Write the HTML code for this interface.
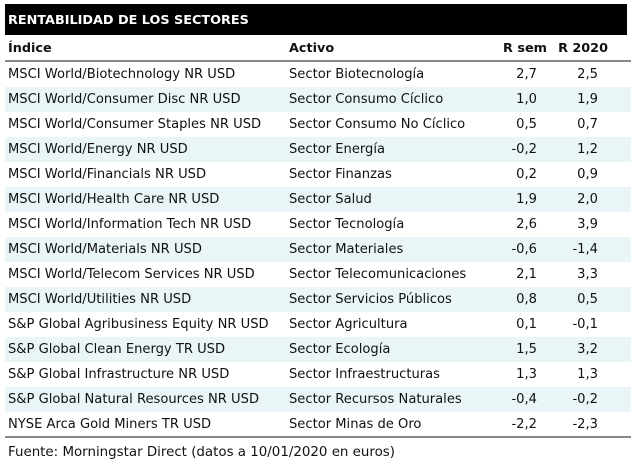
<!DOCTYPE html>
<html><head><meta charset="utf-8"><style>
body{margin:0;width:631px;height:469px;background:#fff;font-family:"DejaVu Sans","Liberation Sans",sans-serif;font-size:13.1px;color:#111;position:relative;overflow:hidden}
.t{position:absolute;left:5px;top:4px;width:622px;height:31px;background:#000;color:#fff;font-weight:bold;font-size:12.8px;line-height:33px;padding-left:3px;box-sizing:border-box}
.r{position:absolute;left:5px;width:626px;height:25px;line-height:26px}
.r span{position:absolute;white-space:nowrap}
.a{left:3px}.b{left:284px}.c{right:94px}.d{right:33px}
.h{font-weight:bold;top:36px;border-bottom:2px solid #888;height:24px;font-size:12.8px}
.s{background:#eaf5f8}
.f{position:absolute;left:8px;top:443px;line-height:20px;font-size:13.4px}
</style></head><body>
<div class="t">RENTABILIDAD DE LOS SECTORES</div>
<div class="r h"><span class="a">Índice</span><span class="b">Activo</span><span style="right:84px">R sem</span><span style="right:23px">R 2020</span></div>
<div class="r" style="top:62px"><span class="a">MSCI World/Biotechnology NR USD</span><span class="b">Sector Biotecnología</span><span class="c">2,7</span><span class="d">2,5</span></div>
<div class="r s" style="top:87px"><span class="a">MSCI World/Consumer Disc NR USD</span><span class="b">Sector Consumo Cíclico</span><span class="c">1,0</span><span class="d">1,9</span></div>
<div class="r" style="top:112px"><span class="a">MSCI World/Consumer Staples NR USD</span><span class="b">Sector Consumo No Cíclico</span><span class="c">0,5</span><span class="d">0,7</span></div>
<div class="r s" style="top:137px"><span class="a">MSCI World/Energy NR USD</span><span class="b">Sector Energía</span><span class="c">-0,2</span><span class="d">1,2</span></div>
<div class="r" style="top:162px"><span class="a">MSCI World/Financials NR USD</span><span class="b">Sector Finanzas</span><span class="c">0,2</span><span class="d">0,9</span></div>
<div class="r s" style="top:187px"><span class="a">MSCI World/Health Care NR USD</span><span class="b">Sector Salud</span><span class="c">1,9</span><span class="d">2,0</span></div>
<div class="r" style="top:212px"><span class="a">MSCI World/Information Tech NR USD</span><span class="b">Sector Tecnología</span><span class="c">2,6</span><span class="d">3,9</span></div>
<div class="r s" style="top:237px"><span class="a">MSCI World/Materials NR USD</span><span class="b">Sector Materiales</span><span class="c">-0,6</span><span class="d">-1,4</span></div>
<div class="r" style="top:262px"><span class="a">MSCI World/Telecom Services NR USD</span><span class="b">Sector Telecomunicaciones</span><span class="c">2,1</span><span class="d">3,3</span></div>
<div class="r s" style="top:287px"><span class="a">MSCI World/Utilities NR USD</span><span class="b">Sector Servicios Públicos</span><span class="c">0,8</span><span class="d">0,5</span></div>
<div class="r" style="top:312px"><span class="a">S&amp;P Global Agribusiness Equity NR USD</span><span class="b">Sector Agricultura</span><span class="c">0,1</span><span class="d">-0,1</span></div>
<div class="r s" style="top:337px"><span class="a">S&amp;P Global Clean Energy TR USD</span><span class="b">Sector Ecología</span><span class="c">1,5</span><span class="d">3,2</span></div>
<div class="r" style="top:362px"><span class="a">S&amp;P Global Infrastructure NR USD</span><span class="b">Sector Infraestructuras</span><span class="c">1,3</span><span class="d">1,3</span></div>
<div class="r s" style="top:387px"><span class="a">S&amp;P Global Natural Resources NR USD</span><span class="b">Sector Recursos Naturales</span><span class="c">-0,4</span><span class="d">-0,2</span></div>
<div class="r" style="top:412px;border-bottom:2px solid #888;height:24px"><span class="a">NYSE Arca Gold Miners TR USD</span><span class="b">Sector Minas de Oro</span><span class="c">-2,2</span><span class="d">-2,3</span></div>
<div class="f">Fuente: Morningstar Direct (datos a 10/01/2020 en euros)</div>
</body></html>
